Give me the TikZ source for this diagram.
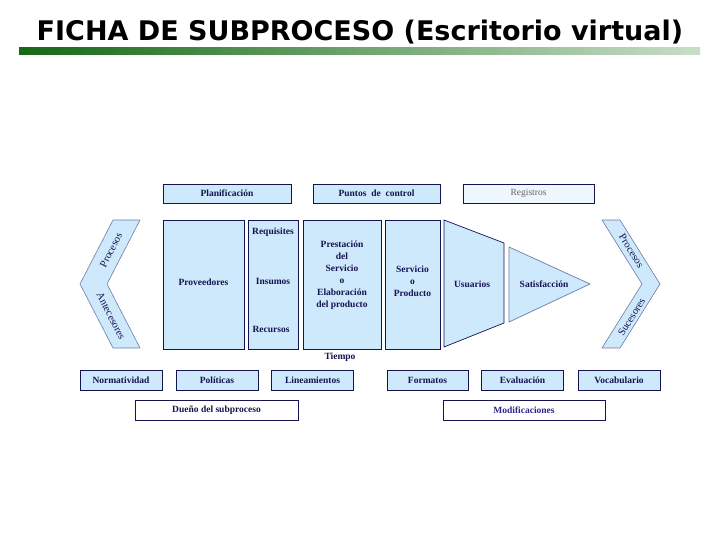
\documentclass[tikz,border=0pt]{standalone}
\usepackage{fontspec}
\setmainfont{Liberation Serif}
\newfontfamily\titlefont{DejaVu Sans}
\definecolor{boxfill}{RGB}{206,232,252}
\definecolor{regfill}{RGB}{238,246,254}
\definecolor{navy}{RGB}{20,20,80}
\definecolor{modblue}{RGB}{40,40,140}
\definecolor{chevline}{RGB}{110,125,165}
\definecolor{gA}{RGB}{22,104,22}
\definecolor{gB}{RGB}{200,222,200}
\tikzset{
  box/.style={draw=navy, fill=boxfill, line width=0.7pt, inner sep=0pt,
    minimum height=19pt, text=navy, font=\bfseries\fontsize{9.5}{11}\selectfont},
  colbox/.style={draw=navy, fill=boxfill, line width=0.7pt, inner sep=0pt,
    minimum height=129pt},
  lbl/.style={text=navy, inner sep=0pt, font=\bfseries\fontsize{9.5}{12}\selectfont, align=center},
  chevtxt/.style={text=navy, inner sep=0pt, font=\fontsize{10.5}{11}\selectfont},
  shapeline/.style={draw=navy, fill=boxfill, line width=0.7pt, line join=round},
  chevshape/.style={draw=chevline, fill=boxfill, line width=0.6pt, line join=round}
}
\begin{document}
\begin{tikzpicture}[x=1pt,y=-1pt]
\useasboundingbox (0,0) rectangle (720,540);
\fill[white] (0,0) rectangle (720,540);
% title
\node[inner sep=0pt, font=\titlefont\bfseries\fontsize{27}{30}\selectfont] (title) at (360,32) {FICHA DE SUBPROCESO (Escritorio virtual)};
\shade[left color=gA, right color=gB] (19,48) rectangle (700,55);
% top boxes
\node[box, minimum width=128pt] (plan) at (227,193.5) {Planificación};
\node[box, minimum width=127pt] (puntos) at (376.5,193.5) {Puntos\ \ de\ \ control};
\node[box, minimum width=131pt, fill=regfill, text=black!60, font=\fontsize{9.5}{11}\selectfont] (reg) at (528.5,193.5) {Registros};
% columns
\node[colbox, minimum width=81pt] (prov) at (203.5,284.5) {};
\node[lbl] (provt) at (203.5,282) {Proveedores};
\node[colbox, minimum width=50pt] (req) at (273,284.5) {};
\node[lbl] (reqt) at (273,232) {Requisites};
\node[lbl] (inst) at (273,281.5) {Insumos};
\node[lbl] (rect) at (271,329) {Recursos};
\node[colbox, minimum width=78pt] (prest) at (342,284.5) {};
\node[lbl] (prestt) at (342,275) {Prestación\\del\\Servicio\\o\\Elaboración\\del producto};
\node[colbox, minimum width=55pt] (serv) at (412.5,284.5) {};
\node[lbl] (servt) at (412.5,281.5) {Servicio\\o\\Producto};
\node[lbl] (tiempo) at (340,357.5) {Tiempo};
% usuarios trapezoid
\draw[shapeline] (444,220) -- (504,243) -- (504,323) -- (444,347) -- cycle;
\node[lbl] (usu) at (472,284) {Usuarios};
% satisfaccion triangle
\draw[shapeline, draw=chevline] (509,247) -- (590,284) -- (509,322) -- cycle;
\node[lbl] (sat) at (544,284) {Satisfacción};
% left chevron
\draw[chevshape] (113,220) -- (140,220) -- (107,284) -- (140,348) -- (113,348) -- (80,284) -- cycle;
\node[chevtxt, rotate=63] (procL) at (111,250) {Procesos};
\node[chevtxt, rotate=-63] (antL) at (111,316) {Antecesores};
% right chevron
\draw[chevshape] (602,220) -- (620,220) -- (660,284) -- (620,348) -- (602,348) -- (642,284) -- cycle;
\node[chevtxt, rotate=-58] (procR) at (631.5,251) {Procesos};
\node[chevtxt, rotate=58] (sucR) at (631.5,317) {Sucesores};
% bottom row
\node[box, minimum width=82pt, minimum height=20pt] (norm) at (121,380) {Normatividad};
\node[box, minimum width=82pt, minimum height=20pt] (pol) at (217,380) {Políticas};
\node[box, minimum width=82pt, minimum height=20pt] (lin) at (312.5,380) {Lineamientos};
\node[box, minimum width=81pt, minimum height=20pt] (form) at (427.5,380) {Formatos};
\node[box, minimum width=82pt, minimum height=20pt] (eval) at (522.5,380) {Evaluación};
\node[box, minimum width=82pt, minimum height=20pt] (voc) at (619,380) {Vocabulario};
\node[box, fill=white, minimum width=163pt, minimum height=20pt] (duen) at (216.5,410) {Dueño del subproceso};
\node[box, fill=white, text=modblue, minimum width=162pt, minimum height=20pt] (mod) at (524,410) {Modificaciones};
\end{tikzpicture}
\end{document}
